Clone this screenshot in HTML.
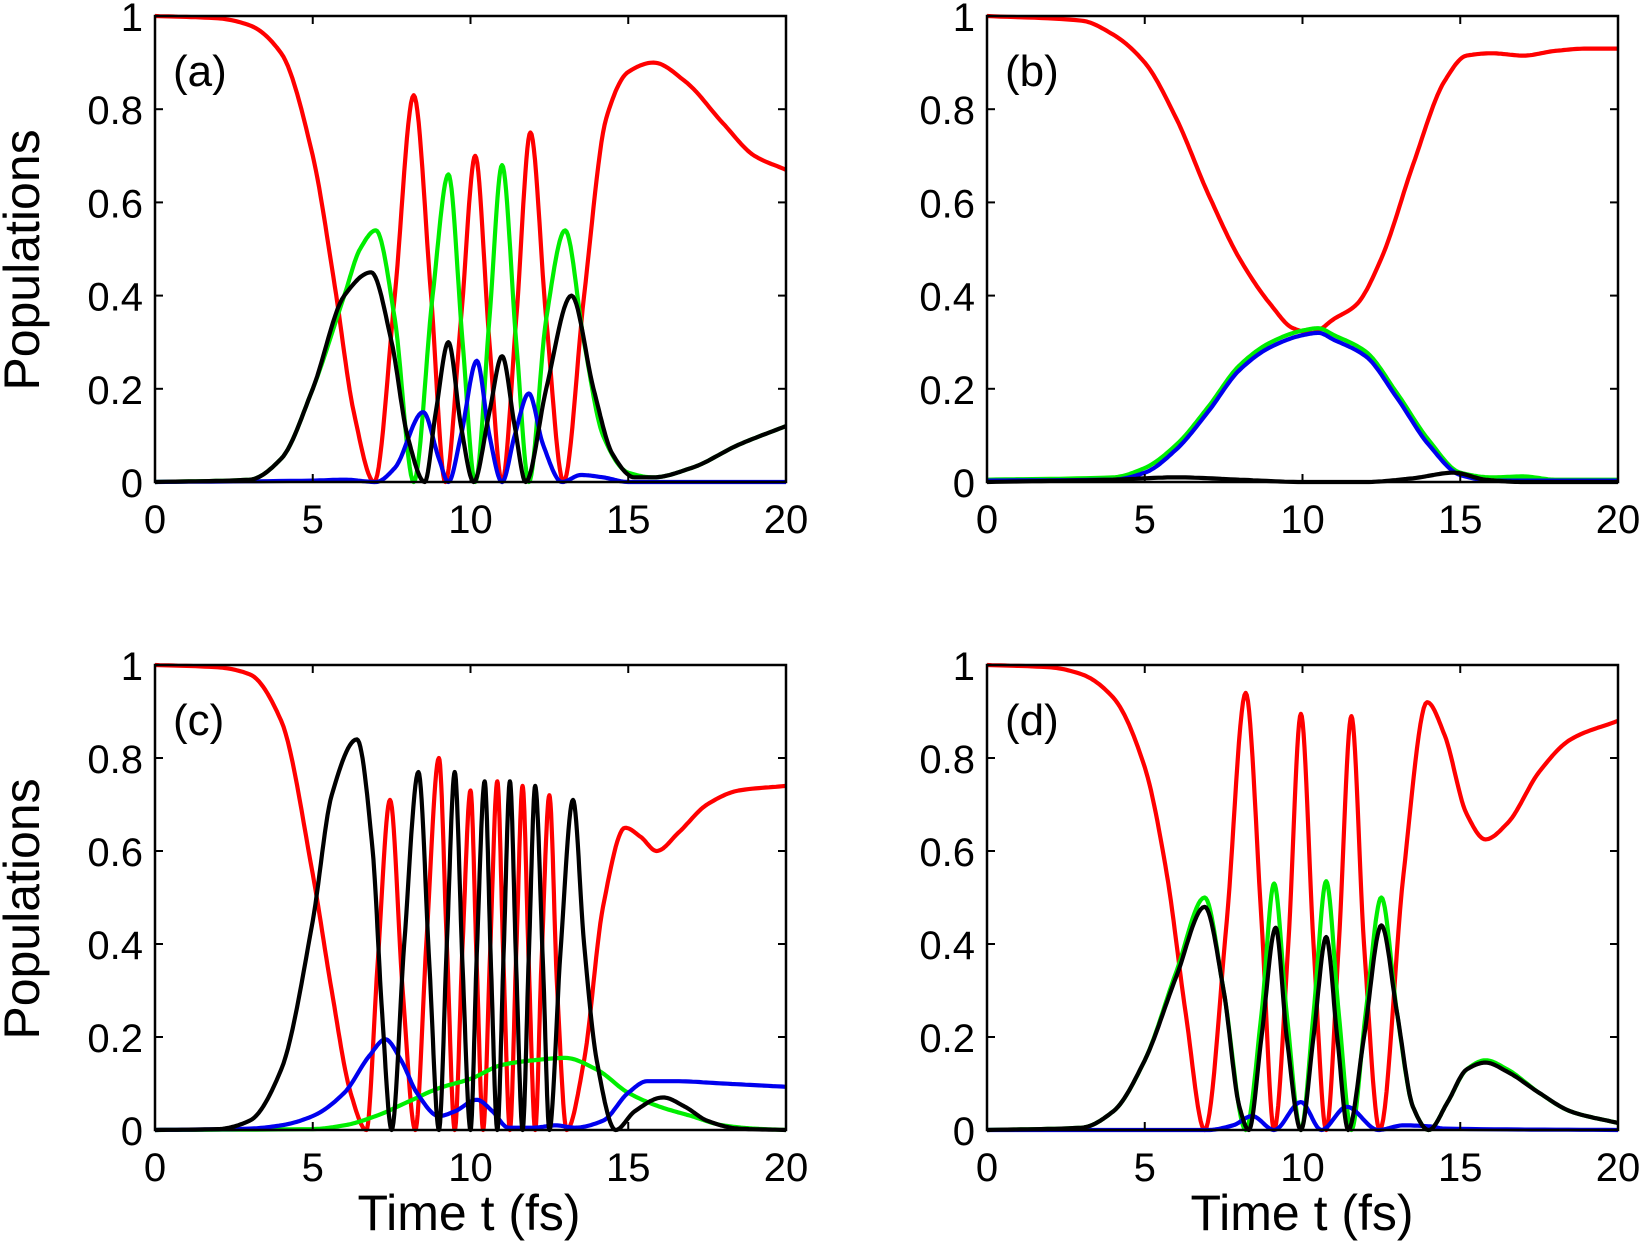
<!DOCTYPE html>
<html><head><meta charset="utf-8"><style>
html,body{margin:0;padding:0;background:#fff;}
svg{display:block;}
text{font-family:"Liberation Sans",sans-serif;fill:#000;}
</style></head><body>
<svg id="s" width="1642" height="1246" viewBox="0 0 1642 1246" xmlns="http://www.w3.org/2000/svg">
<text x="22" y="260" font-size="50" text-anchor="middle" dominant-baseline="central" transform="rotate(-90 22 260)">Populations</text>
<text x="22" y="909" font-size="50" text-anchor="middle" dominant-baseline="central" transform="rotate(-90 22 909)">Populations</text>
<text x="469" y="1230" font-size="50" text-anchor="middle">Time t (fs)</text>
<text x="1302" y="1230" font-size="50" text-anchor="middle">Time t (fs)</text>
</svg>
<script>
var S=document.getElementById('s'),NS='http://www.w3.org/2000/svg';
function el(n,a,t){var e=document.createElementNS(NS,n);for(var k in a)e.setAttribute(k,a[k]);if(t!=null)e.textContent=t;S.appendChild(e);return e;}
function spline(p){var n=p.length,m=[];
for(var i=0;i<n;i++){
 if(i==0||i==n-1){var a=p[Math.max(0,i-1)],b=p[Math.min(n-1,i+1)];m.push((b[1]-a[1])/(b[0]-a[0]));continue;}
 var d0=(p[i][1]-p[i-1][1])/(p[i][0]-p[i-1][0]),d1=(p[i+1][1]-p[i][1])/(p[i+1][0]-p[i][0]);
 if(d0*d1<=0)m.push(0);else{var h0=p[i][0]-p[i-1][0],h1=p[i+1][0]-p[i][0];var w1=2*h1+h0,w2=h1+2*h0;m.push((w1+w2)/(w1/d0+w2/d1));}
}
var out=[];for(var i=0;i<n-1;i++){var p1=p[i],p2=p[i+1],h=p2[0]-p1[0],m1=m[i],m2=m[i+1];
for(var j=0;j<14;j++){var s=j/14,s2=s*s,s3=s2*s;var v=(2*s3-3*s2+1)*p1[1]+(s3-2*s2+s)*h*m1+(-2*s3+3*s2)*p2[1]+(s3-s2)*h*m2;out.push([p1[0]+s*h,Math.max(0,Math.min(1,v))]);}}
out.push(p[n-1]);return out;}
var panels=[
{L:155,R:786,T:16,B:482,lab:'(a)',c:{
r:[[0,1],[2,0.995],[3,0.98],[4,0.92],[5,0.7],[5.7,0.42],[6.3,0.15],[6.95,0],[7.6,0.4],[8.2,0.83],[8.75,0.4],[9.2,0],[9.7,0.35],[10.15,0.7],[10.6,0.3],[11.0,0],[11.45,0.35],[11.9,0.75],[12.4,0.35],[12.95,0],[13.6,0.4],[14.3,0.78],[15,0.88],[15.8,0.9],[16.8,0.86],[18,0.77],[19,0.7],[20,0.67]],
g:[[0,0],[3,0.005],[4,0.05],[5,0.2],[6,0.4],[6.5,0.5],[7,0.54],[7.6,0.35],[8.2,0],[8.8,0.4],[9.3,0.66],[9.75,0.3],[10.15,0],[10.6,0.35],[11,0.68],[11.45,0.3],[11.85,0],[12.4,0.35],[13,0.54],[13.6,0.3],[14.2,0.1],[15,0.02],[15.8,0.01],[17,0.03],[18.5,0.08],[20,0.12]],
b:[[0,0],[5,0.003],[6,0.005],[7,0],[7.6,0.03],[8.5,0.15],[9,0.05],[9.3,0],[9.7,0.1],[10.2,0.26],[10.6,0.1],[11,0],[11.4,0.1],[11.85,0.19],[12.3,0.08],[12.9,0],[13.5,0.015],[14.2,0.01],[15,0],[20,0]],
k:[[0,0],[3,0.005],[4,0.05],[5,0.2],[6,0.4],[6.85,0.45],[7.5,0.3],[8,0.1],[8.55,0],[8.9,0.15],[9.3,0.3],[9.7,0.12],[10.1,0],[10.6,0.15],[11,0.27],[11.4,0.12],[11.75,0],[12.4,0.2],[13.2,0.4],[13.9,0.2],[14.5,0.06],[15.2,0.01],[15.8,0.01],[17,0.03],[18.5,0.08],[20,0.12]]}},
{L:987,R:1618,T:16,B:482,lab:'(b)',c:{
r:[[0,1],[3,0.99],[4,0.96],[5,0.9],[6,0.78],[7,0.62],[8,0.48],[9,0.38],[9.7,0.33],[10.3,0.32],[11,0.35],[11.7,0.38],[12.5,0.48],[13.5,0.68],[14.5,0.86],[15.2,0.915],[16,0.92],[17,0.915],[18,0.925],[19,0.93],[20,0.93]],
g:[[0,0.005],[4,0.01],[5,0.03],[6,0.08],[7,0.16],[8,0.25],[9,0.3],[10,0.325],[10.5,0.33],[11,0.315],[12,0.28],[13,0.19],[14,0.09],[15,0.02],[16,0.01],[17,0.012],[18,0.005],[20,0.005]],
b:[[0,0.003],[4,0.005],[5,0.02],[6,0.07],[7,0.15],[8,0.24],[9,0.29],[10,0.315],[10.5,0.32],[11,0.305],[12,0.27],[13,0.18],[14,0.08],[15,0.015],[16,0.003],[20,0.003]],
k:[[0,0],[4,0.005],[6,0.01],[8,0.005],[10,0],[12,0],[13.5,0.008],[14.8,0.02],[15.8,0.005],[17,0],[20,0]]}},
{L:155,R:786,T:665,B:1130,lab:'(c)',c:{
r:[[0,1],[2,0.995],[3,0.98],[4,0.88],[5,0.55],[5.6,0.3],[6.2,0.08],[6.7,0],[7.05,0.35],[7.45,0.71],[7.85,0.3],[8.25,0],[8.6,0.4],[9,0.8],[9.25,0.4],[9.5,0],[9.75,0.4],[10,0.73],[10.2,0.35],[10.4,0],[10.62,0.38],[10.85,0.75],[11.05,0.35],[11.25,0],[11.45,0.38],[11.65,0.74],[11.85,0.35],[12.05,0],[12.25,0.36],[12.5,0.72],[12.75,0.3],[13.05,0],[13.6,0.15],[14.2,0.48],[14.9,0.65],[15.4,0.63],[15.9,0.6],[16.6,0.64],[17.5,0.7],[18.5,0.73],[20,0.74]],
g:[[0,0],[5,0.002],[6,0.01],[7,0.03],[8,0.06],[9,0.09],[10,0.11],[11,0.14],[12,0.15],[13,0.155],[14,0.13],[15,0.08],[16,0.05],[17,0.03],[18,0.01],[19,0.003],[20,0]],
b:[[0,0],[3,0.003],[4,0.01],[5,0.03],[6,0.08],[6.8,0.16],[7.3,0.195],[7.8,0.15],[8.3,0.08],[9,0.03],[9.5,0.04],[10.2,0.065],[10.7,0.04],[11.2,0.005],[12,0.005],[12.7,0.01],[13.3,0.005],[14.2,0.02],[15,0.08],[15.6,0.105],[16.5,0.105],[18,0.1],[20,0.093]],
k:[[0,0],[2,0.002],[3,0.02],[4,0.13],[5,0.45],[5.6,0.72],[6.4,0.84],[6.9,0.6],[7.2,0.25],[7.5,0],[7.9,0.4],[8.35,0.77],[8.7,0.35],[9,0],[9.25,0.4],[9.5,0.77],[9.75,0.35],[10,0],[10.2,0.38],[10.45,0.75],[10.65,0.35],[10.85,0],[11.05,0.38],[11.25,0.75],[11.45,0.35],[11.65,0],[11.85,0.38],[12.05,0.74],[12.3,0.35],[12.5,0],[12.85,0.38],[13.25,0.71],[13.6,0.4],[14,0.15],[14.6,0],[15.2,0.04],[16.1,0.07],[16.8,0.05],[17.5,0.02],[18.5,0.003],[20,0]]}},
{L:987,R:1618,T:665,B:1130,lab:'(d)',c:{
r:[[0,1],[2,0.995],[3,0.98],[4,0.93],[5,0.78],[5.7,0.55],[6.3,0.25],[6.9,0],[7.6,0.45],[8.2,0.94],[8.7,0.45],[9.1,0],[9.55,0.4],[9.95,0.895],[10.35,0.4],[10.75,0],[11.15,0.4],[11.55,0.89],[11.95,0.4],[12.45,0],[13.2,0.55],[13.95,0.92],[14.5,0.85],[15.2,0.68],[15.8,0.625],[16.5,0.66],[17.5,0.77],[18.5,0.84],[20,0.88]],
g:[[0,0],[3,0.005],[4,0.04],[5,0.15],[6,0.34],[6.9,0.5],[7.5,0.3],[8.2,0],[8.7,0.25],[9.1,0.53],[9.5,0.25],[9.95,0],[10.35,0.25],[10.75,0.535],[11.15,0.25],[11.55,0],[12,0.25],[12.5,0.5],[13,0.25],[13.5,0.05],[14,0],[14.6,0.06],[15.2,0.13],[15.8,0.15],[16.5,0.13],[17.5,0.08],[18.5,0.04],[20,0.015]],
b:[[0,0],[7,0],[7.8,0.01],[8.4,0.03],[9.1,0],[9.95,0.06],[10.6,0],[11.4,0.05],[12.4,0],[13.2,0.01],[14,0.008],[14.5,0.003],[20,0]],
k:[[0,0],[3,0.005],[4,0.04],[5,0.15],[6,0.33],[6.9,0.48],[7.5,0.3],[8,0.05],[8.3,0],[8.7,0.2],[9.15,0.435],[9.5,0.2],[9.95,0],[10.35,0.2],[10.75,0.415],[11.1,0.2],[11.45,0],[11.95,0.2],[12.5,0.44],[13,0.25],[13.5,0.05],[14,0],[14.6,0.06],[15.2,0.13],[15.8,0.145],[16.5,0.125],[17.5,0.08],[18.5,0.04],[20,0.015]]}}];
var cols={r:'#ff0000',g:'#00ee00',b:'#0000ee',k:'#000000'};
panels.forEach(function(P){
 var W=P.R-P.L,H=P.B-P.T;
 ['r','g','b','k'].forEach(function(key){
  var pts=spline(P.c[key]),d='';
  pts.forEach(function(q,i){d+=(i?'L':'M')+(P.L+q[0]/20*W).toFixed(1)+' '+(P.B-q[1]*H).toFixed(1);});
  el('path',{d:d,fill:'none',stroke:cols[key],'stroke-width':4.2,'stroke-linejoin':'round'});
 });
 el('rect',{x:P.L,y:P.T,width:W,height:H,fill:'none',stroke:'#000','stroke-width':2.5});
 for(var i=0;i<=4;i++){var x=P.L+i*W/4;
  el('line',{x1:x,y1:P.B,x2:x,y2:P.B-8,stroke:'#000','stroke-width':2});
  el('line',{x1:x,y1:P.T,x2:x,y2:P.T+8,stroke:'#000','stroke-width':2});
  el('text',{x:x,y:P.B+51,'font-size':40,'text-anchor':'middle'},String(i*5));}
 var yl=['0','0.2','0.4','0.6','0.8','1'];
 for(var j=0;j<=5;j++){var y=P.B-j*H/5;
  el('line',{x1:P.L,y1:y,x2:P.L+8,y2:y,stroke:'#000','stroke-width':2});
  el('line',{x1:P.R,y1:y,x2:P.R-8,y2:y,stroke:'#000','stroke-width':2});
  el('text',{x:P.L-12,y:y+15,'font-size':40,'text-anchor':'end'},yl[j]);}
 el('text',{x:P.L+18,y:P.T+70,'font-size':44},P.lab);
});
</script>
</body></html>
